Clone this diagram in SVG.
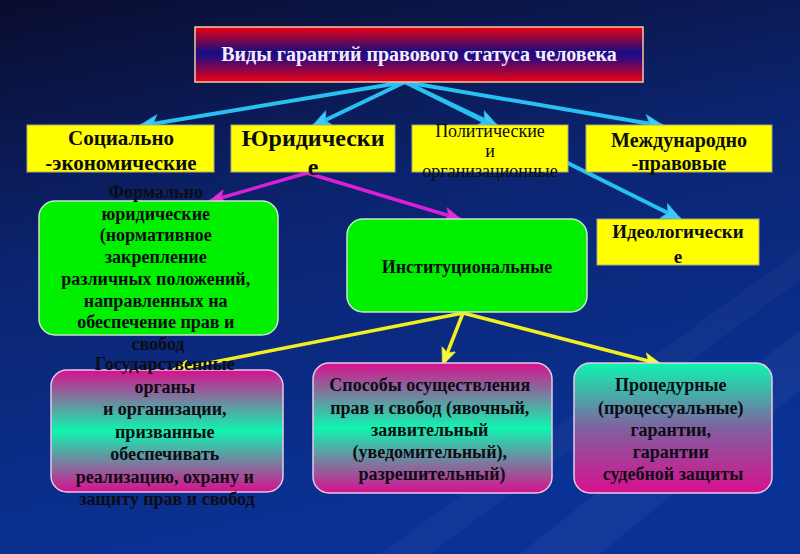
<svg xmlns="http://www.w3.org/2000/svg" width="800" height="554" viewBox="0 0 800 554">
<defs>
<linearGradient id="bg" x1="0" y1="0" x2="0.3" y2="1">
<stop offset="0" stop-color="#0a0c2e"/>
<stop offset="0.45" stop-color="#0b2470"/>
<stop offset="1" stop-color="#0a3296"/>
</linearGradient>
<linearGradient id="titleG" x1="0" y1="0" x2="0" y2="1">
<stop offset="0" stop-color="#f00010"/>
<stop offset="0.45" stop-color="#1a0c82"/>
<stop offset="0.55" stop-color="#2a0a80"/>
<stop offset="1" stop-color="#f00010"/>
</linearGradient>
<linearGradient id="mgm" x1="0" y1="0" x2="0" y2="1">
<stop offset="0" stop-color="#d8108e"/>
<stop offset="0.5" stop-color="#10f5b0"/>
<stop offset="1" stop-color="#d8108e"/>
</linearGradient>
<linearGradient id="gm" x1="0" y1="0" x2="0" y2="1">
<stop offset="0" stop-color="#10f5b0"/>
<stop offset="0.5" stop-color="#8060a0"/>
<stop offset="1" stop-color="#d8108e"/>
</linearGradient>
<marker id="ac" viewBox="0 0 12 10" refX="11" refY="5" markerWidth="5" markerHeight="5" orient="auto" markerUnits="strokeWidth">
<path d="M0,0 L12,5 L0,10 L3,5 Z" fill="#40c8f8" stroke="#20b8f0" stroke-width="0.5"/>
</marker>
<marker id="am" viewBox="0 0 12 10" refX="11" refY="5" markerWidth="5" markerHeight="5" orient="auto" markerUnits="strokeWidth">
<path d="M0,0 L12,5 L0,10 L3,5 Z" fill="#e030d8" stroke="#d020d0" stroke-width="0.5"/>
</marker>
<marker id="ay" viewBox="0 0 12 10" refX="11" refY="5" markerWidth="5" markerHeight="5" orient="auto" markerUnits="strokeWidth">
<path d="M0,0 L12,5 L0,10 L3,5 Z" fill="#f8f840" stroke="#f0f020" stroke-width="0.5"/>
</marker>
</defs>
<style>
text{font-family:"Liberation Serif","DejaVu Serif",serif;font-weight:bold;text-anchor:middle;fill:#0c0c14}
.ybox{fill:#ffff00;stroke:#a8a890;stroke-width:1}
.gbox{fill:#00f000;stroke:#c8e8c8;stroke-width:1.5}
.pbox{stroke:#e8c8e8;stroke-width:1.5}
.cy{stroke:#28c0f0;stroke-width:4;fill:none;marker-end:url(#ac)}
.mg{stroke:#d820d8;stroke-width:3.5;fill:none;marker-end:url(#am)}
.yl{stroke:#f0f020;stroke-width:3.5;fill:none;marker-end:url(#ay)}
</style>
<rect width="800" height="554" fill="url(#bg)"/>
<polygon points="520,554 800,330 800,390 600,554" fill="#ffffff" opacity="0.04"/>
<polygon points="380,554 800,250 800,280 430,554" fill="#ffffff" opacity="0.03"/>

<g id="connectors">
<line class="cy" x1="405" y1="82" x2="140" y2="126"/>
<line class="cy" x1="405" y1="82" x2="313" y2="126"/>
<line class="cy" x1="405" y1="82" x2="497" y2="126"/>
<line class="cy" x1="405" y1="82" x2="663" y2="126"/>
<line class="cy" x1="405" y1="82" x2="680" y2="219"/>
<line class="mg" x1="307" y1="173" x2="210" y2="201"/>
<line class="mg" x1="307" y1="173" x2="460" y2="219"/>
<line class="yl" x1="463" y1="313" x2="173" y2="370"/>
<line class="yl" x1="463" y1="313" x2="443" y2="364"/>
<line class="yl" x1="463" y1="313" x2="660" y2="364"/>
</g>

<g id="title">
<rect x="195" y="27" width="448" height="55" fill="url(#titleG)" stroke="#f0c8a8" stroke-width="1.5"/>
<text x="419" y="61" style="font-size:20px;fill:#f4ecff">Виды гарантий правового статуса человека</text>
</g>

<g id="social">
<rect class="ybox" x="27" y="125" width="187" height="47"/>
<text x="121" y="145" style="font-size:21px">Социально</text>
<text x="121" y="170" style="font-size:21px">-экономические</text>
</g>

<g id="legal">
<rect class="ybox" x="231" y="125" width="164" height="47"/>
<text x="313" y="146" style="font-size:24px">Юридически</text>
<text x="313" y="175" style="font-size:24px">е</text>
</g>

<g id="political">
<rect class="ybox" x="412" y="125" width="156" height="47"/>
<text x="490" y="137" style="font-size:18px;font-weight:normal">Политические</text>
<text x="490" y="157" style="font-size:18px;font-weight:normal">и</text>
<text x="490" y="177" style="font-size:18px;font-weight:normal">организационные</text>
</g>

<g id="intl">
<rect class="ybox" x="586" y="125" width="186" height="47"/>
<text x="679" y="147" style="font-size:20px">Международно</text>
<text x="679" y="170" style="font-size:20px">-правовые</text>
</g>

<g id="ideol">
<rect class="ybox" x="597" y="219" width="162" height="46"/>
<text x="678" y="238" style="font-size:19px">Идеологически</text>
<text x="678" y="263" style="font-size:19px">е</text>
</g>

<g id="formal">
<rect class="gbox" x="39" y="201" width="239" height="134" rx="16"/>
<text style="font-size:18px">
<tspan x="158" y="198">Формально</tspan>
<tspan x="158" y="219.7">юридические</tspan>
<tspan x="158" y="241.4">(нормативное</tspan>
<tspan x="158" y="263.1">закрепление</tspan>
<tspan x="158" y="284.8">различных положений,</tspan>
<tspan x="158" y="306.5">направленных на</tspan>
<tspan x="158" y="328.2">обеспечение прав и</tspan>
<tspan x="158" y="349.9">свобод</tspan>
</text>
</g>

<g id="inst">
<rect class="gbox" x="347" y="219" width="240" height="93" rx="16"/>
<text x="467" y="273" style="font-size:18px">Институциональные</text>
</g>

<g id="state">
<rect class="pbox" x="51" y="370" width="232" height="122" rx="16" fill="url(#mgm)"/>
<text style="font-size:18px">
<tspan x="167" y="370">Государственные</tspan>
<tspan x="167" y="392.5">органы</tspan>
<tspan x="167" y="415">и организации,</tspan>
<tspan x="167" y="437.5">призванные</tspan>
<tspan x="167" y="460">обеспечивать</tspan>
<tspan x="167" y="482.5">реализацию, охрану и</tspan>
<tspan x="167" y="505">защиту прав и свобод</tspan>
</text>
</g>

<g id="ways">
<rect class="pbox" x="313" y="363" width="239" height="130" rx="16" fill="url(#mgm)"/>
<text style="font-size:18px">
<tspan x="432" y="391">Способы осуществления</tspan>
<tspan x="432" y="414">прав и свобод (явочный,</tspan>
<tspan x="432" y="436">заявительный</tspan>
<tspan x="432" y="458">(уведомительный),</tspan>
<tspan x="432" y="480">разрешительный)</tspan>
</text>
</g>

<g id="proc">
<rect class="pbox" x="574" y="363" width="198" height="130" rx="16" fill="url(#gm)"/>
<text style="font-size:18px">
<tspan x="673" y="391">Процедурные</tspan>
<tspan x="673" y="414">(процессуальные)</tspan>
<tspan x="673" y="436">гарантии,</tspan>
<tspan x="673" y="458">гарантии</tspan>
<tspan x="673" y="480">судебной защиты</tspan>
</text>
</g>
</svg>
